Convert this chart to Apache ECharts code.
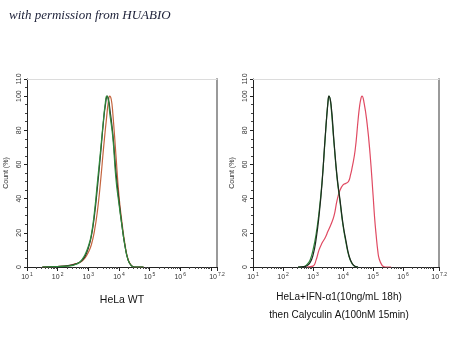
<!DOCTYPE html>
<html><head><meta charset="utf-8">
<script src="https://cdn.jsdelivr.net/npm/echarts@6/dist/echarts.min.js"></script>
<style>html,body{margin:0;padding:0;background:#fff}#c{width:450px;height:360px}</style>
</head><body><div id="c"></div>
<script>
// x values are log10 of fluorescence intensity; y values are Count (%)
const xLabelExps = [1, 2, 3, 4, 5, 6, 7.2];
const xMajorTicks = [1, 2, 3, 4, 5, 6, 7, 7.2];
const yMax = 110;
const yInterval = 20;
const titleText = 'with permission from HUABIO';
const leftCaption = ['HeLa WT'];
const rightCaption = ['HeLa+IFN-α1(10ng/mL 18h)', 'then Calyculin A(100nM 15min)'];

// Left panel: HeLa WT
const leftRed = [[1.5,0],[2.0,0.3],[2.4,1],[2.6,2],[2.7,2.5],[2.8,3.5],[2.9,5.5],[3.0,8.5],[3.1,13],[3.2,21],[3.3,33],[3.4,50],[3.5,70],[3.6,88],[3.65,96],[3.7,100],[3.75,98],[3.8,90],[3.9,66],[4.0,42],[4.1,26],[4.2,13],[4.3,4.5],[4.4,1],[4.5,0],[4.8,0]];
const leftBlack = [[1.5,0],[2.0,0.3],[2.4,1],[2.6,1.8],[2.7,2.6],[2.8,4],[2.9,6.5],[3.0,11],[3.1,18],[3.2,30],[3.3,47],[3.4,66],[3.5,86],[3.56,95],[3.62,100],[3.67,97],[3.7,93],[3.8,78],[3.9,56],[4.0,39],[4.1,24],[4.2,12],[4.3,4],[4.4,0.9],[4.5,0],[4.8,0]];
const leftGreen = [[1.5,0],[2.0,0.2],[2.3,0.5],[2.5,1],[2.6,1.6],[2.7,2.5],[2.8,4.5],[2.9,7.5],[3.0,12],[3.1,19],[3.2,32],[3.3,50],[3.4,68],[3.5,87],[3.55,95],[3.6,100],[3.65,98],[3.7,90],[3.8,76],[3.9,52],[4.0,37],[4.1,24],[4.2,12],[4.3,4],[4.4,0.8],[4.5,0],[4.8,0]];

// Right panel: HeLa+IFN-a1 then Calyculin A
const rightRed = [[2.8,0],[3.0,0.5],[3.1,4],[3.2,10],[3.3,14],[3.4,17],[3.5,21],[3.6,25],[3.7,30],[3.8,39],[3.9,45],[4.0,48],[4.1,49],[4.18,50],[4.25,54],[4.3,58],[4.4,68],[4.5,86],[4.55,94],[4.6,99],[4.63,100],[4.7,96],[4.8,84],[4.9,66],[5.0,42],[5.05,29],[5.1,19],[5.16,9],[5.2,5],[5.3,1],[5.4,0],[5.6,0]];
const rightGreen = [[2.5,0],[2.7,0.3],[2.8,1.5],[2.9,4],[3.0,10],[3.1,19],[3.2,32],[3.3,50],[3.4,74],[3.45,87],[3.5,97],[3.53,100],[3.57,98],[3.6,94],[3.7,72],[3.8,52],[3.9,38],[4.0,24],[4.1,14],[4.2,6],[4.3,2],[4.4,0.3],[4.5,0]];
const rightBlack = [[2.5,0],[2.7,0.2],[2.8,0.8],[2.9,2.5],[3.0,7],[3.1,16],[3.2,30],[3.3,49],[3.4,75],[3.5,97],[3.53,100],[3.6,95],[3.7,73],[3.8,53],[3.9,39],[4.0,25],[4.1,15],[4.2,6.5],[4.3,2.2],[4.4,0.4],[4.5,0]];

const minorX = [];
for (let d = 1; d <= 7; d++) for (let k = 2; k <= 9; k++) { const v = d + Math.log10(k); if (v < 7.2) minorX.push(+v.toFixed(4)); }

const chart = echarts.init(document.getElementById('c'), null, {renderer: 'canvas'});
const font = 'Liberation Sans, Arial, sans-serif';
const grids = [
  {left: 27, top: 79, width: 190, height: 188},
  {left: 253, top: 79, width: 189, height: 188}
];
const xAxes = [], yAxes = [];
grids.forEach((g, i) => {
  xAxes.push({
    gridIndex: i, type: 'value', min: 1, max: 7.2, position: 'bottom',
    axisLine: {show: true, lineStyle: {color: '#222', width: 1}},
    axisTick: {show: true, customValues: xMajorTicks, length: 4, lineStyle: {color: '#222'}},
    splitLine: {show: false},
    axisLabel: {
      customValues: xLabelExps, margin: 5, color: '#333',
      formatter: v => '{b|10}{s|' + (Math.round(v * 10) / 10) + '}',
      rich: {b: {fontSize: 7, fontFamily: font, color: '#333', lineHeight: 10},
             s: {fontSize: 5, fontFamily: font, color: '#333', verticalAlign: 'top', lineHeight: 10, padding: [0, 0, 4, 1]}}
    }
  });
  xAxes.push({
    gridIndex: i, type: 'value', min: 1, max: 7.2, position: 'bottom',
    axisLine: {show: false}, splitLine: {show: false}, axisLabel: {show: false},
    axisTick: {show: true, customValues: minorX, length: 2, lineStyle: {color: '#444'}}
  });
  xAxes.push({
    gridIndex: i, type: 'value', min: 1, max: 7.2, position: 'top',
    axisLine: {show: true, lineStyle: {color: '#dcdcdc', width: 1}},
    axisTick: {show: false}, axisLabel: {show: false}, splitLine: {show: false}
  });
  yAxes.push({
    gridIndex: i, type: 'value', min: 0, max: yMax, interval: yInterval, position: 'left',
    name: 'Count (%)', nameLocation: 'middle', nameGap: 17, nameRotate: 90,
    nameTextStyle: {fontSize: 7, fontFamily: font, color: '#333'},
    axisLine: {show: true, lineStyle: {color: '#222', width: 1}},
    axisTick: {show: true, length: 3, lineStyle: {color: '#222'}},
    minorTick: {show: true, splitNumber: 4, length: 2, lineStyle: {color: '#444'}},
    splitLine: {show: false},
    axisLabel: {rotate: 90, fontSize: 7, fontFamily: font, color: '#333', margin: 4}
  });
  yAxes.push({
    gridIndex: i, type: 'value', min: 0, max: yMax, position: 'right',
    axisLine: {show: true, lineStyle: {color: '#9a9a9a', width: 2}},
    axisTick: {show: false}, axisLabel: {show: false}, splitLine: {show: false}
  });
});

function line(data, xi, yi, color) {
  return {type: 'line', data: data, xAxisIndex: xi, yAxisIndex: yi, showSymbol: false,
    smooth: 0.5, clip: true, lineStyle: {color: color, width: 1.2}, silent: true, animation: false};
}

chart.setOption({
  animation: false,
  backgroundColor: '#fff',
  title: {text: titleText, left: 4, top: 4,
    textStyle: {fontFamily: 'Liberation Serif, serif', fontStyle: 'italic', fontWeight: 'normal', fontSize: 13, color: '#1c2038'}},
  grid: grids,
  xAxis: xAxes,
  yAxis: yAxes,
  series: [
    line(leftRed, 0, 0, '#c4643e'),
    line(leftBlack, 0, 0, '#2a2a22'),
    line(leftGreen, 0, 0, '#2f8a3c'),
    line(rightRed, 3, 2, '#e04a62'),
    line(rightGreen, 3, 2, '#2f8a3c'),
    line(rightBlack, 3, 2, '#1e2a1e')
  ],
  graphic: [
    {type: 'text', x: 122, y: 300, style: {text: leftCaption[0], fontSize: 10.5, fontFamily: font, fill: '#111', align: 'center', verticalAlign: 'middle'}},
    {type: 'text', x: 339, y: 297, style: {text: rightCaption[0], fontSize: 10, fontFamily: font, fill: '#111', align: 'center', verticalAlign: 'middle'}},
    {type: 'text', x: 339, y: 315, style: {text: rightCaption[1], fontSize: 10, fontFamily: font, fill: '#111', align: 'center', verticalAlign: 'middle'}}
  ]
});
</script></body></html>
